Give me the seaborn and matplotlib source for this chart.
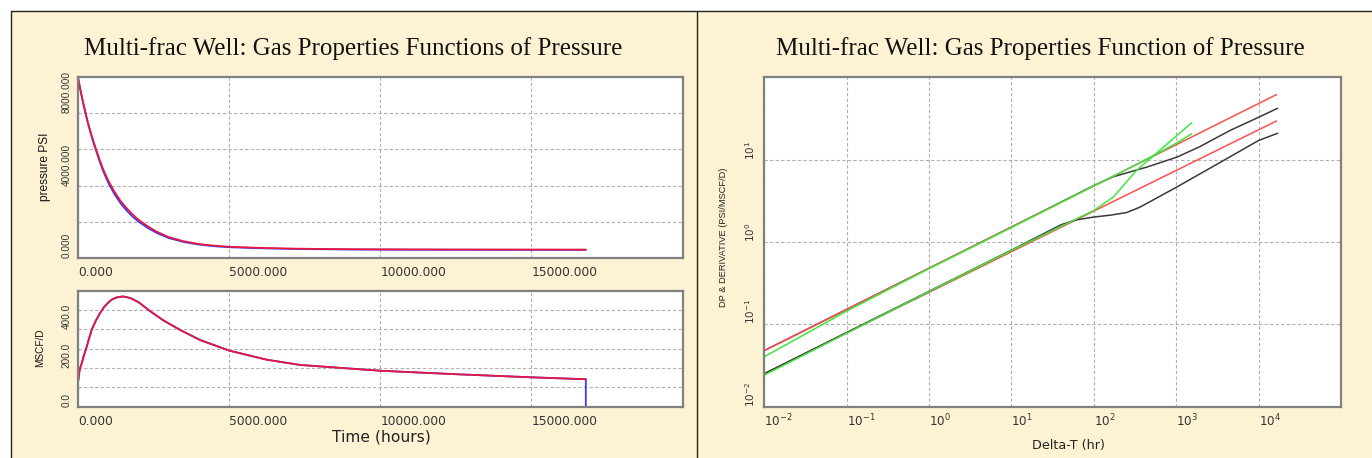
import numpy as np
import pandas as pd
import matplotlib
matplotlib.use("Agg")
import matplotlib.pyplot as plt
from matplotlib.patches import Rectangle
from matplotlib.lines import Line2D
import seaborn as sns

# ---------------- data ----------------
# pressure vs time (left top)
p_time = [0, 50, 100, 150, 200, 300, 400, 500, 600, 700, 800, 900, 1000, 1200, 1400, 1600,
          1800, 2000, 2300, 2600, 3000, 3500, 4000, 4500, 5000, 6000, 7000, 8000, 9000,
          10000, 12000, 14000, 16800]
p_red = [9900, 9460, 9050, 8660, 8300, 7600, 7000, 6450, 5950, 5460, 5000, 4610, 4250, 3650,
         3150, 2750, 2400, 2100, 1750, 1450, 1150, 920, 770, 680, 620, 560, 520, 500, 485,
         478, 470, 466, 462]
p_blue = [9900, 9455, 9040, 8645, 8280, 7560, 6950, 6380, 5870, 5370, 4900, 4500, 4130, 3520,
          3020, 2620, 2280, 2000, 1660, 1380, 1100, 880, 740, 650, 595, 540, 505, 485, 470,
          462, 455, 452, 450]

# rate vs time (left bottom)
q_time = [0, 20, 40, 70, 112, 180, 278, 360, 450, 580, 719, 850, 1000, 1120, 1250, 1360,
          1480, 1600, 1750, 2000, 2370, 2800, 3370, 4030, 5000, 6240, 7340, 8660, 10000,
          12500, 15000, 16800]
q_red = [135, 163, 185, 205, 224, 262, 310, 355, 400, 445, 484, 515, 540, 555, 564, 568,
         570, 567, 560, 540, 495, 448, 397, 345, 290, 243, 216, 201, 186, 168, 152, 142]
q_blue_time = q_time + [16800]
q_blue = q_red + [0]

# log-log diagnostic (right)
red_up_t = [0.01, 16500]
red_up_y = [0.048, 61.7]
red_lo_t = [0.01, 16500]
red_lo_y = [0.0252, 29.5]
blk_up_t = [0.01, 0.1, 1, 10, 100, 172, 437, 1011, 1940, 4490, 10000, 17000]
blk_up_y = [0.048, 0.152, 0.48, 1.52, 4.85, 6.2, 8.11, 10.7, 14.4, 22.6, 32.7, 42.1]
blk_lo_t = [0.01, 0.1, 1, 10, 40, 60, 100, 160, 250, 363, 1011, 2800, 10000, 17000]
blk_lo_y = [0.0252, 0.0797, 0.252, 0.797, 1.62, 1.85, 2.01, 2.12, 2.28, 2.65, 4.64, 8.27, 17.1, 20.9]
grn_up_t = [0.01, 0.1, 1, 10, 100, 250, 600, 1000, 1540]
grn_up_y = [0.0404, 0.145, 0.475, 1.5, 4.8, 7.6, 12.0, 15.8, 20.6]
grn_lo_t = [0.01, 0.1, 1, 10, 100, 172, 330, 700, 1540]
grn_lo_y = [0.0242, 0.078, 0.25, 0.79, 2.42, 3.5, 7.4, 14.2, 28.0]

time_ticks = [0, 5000, 10000, 15000]
p_ticks = [0, 2000, 4000, 6000, 8000]
p_labels = ["0.000", "", "4000.000", "", "8000.000"]
q_ticks = [0, 100, 200, 300, 400, 500]
q_labels = ["0.0", "", "200.0", "", "400.0", ""]
logx_ticks = [1e-2, 1e-1, 1e0, 1e1, 1e2, 1e3, 1e4]
logx_labels = ["$10^{-2}$", "$10^{-1}$", "$10^{0}$", "$10^{1}$", "$10^{2}$", "$10^{3}$", "$10^{4}$"]
logy_ticks = [1e-2, 1e-1, 1e0, 1e1]
logy_labels = ["$10^{-2}$", "$10^{-1}$", "$10^{0}$", "$10^{1}$"]

title_left = "Multi-frac Well: Gas Properties Functions of Pressure"
title_right = "Multi-frac Well: Gas Properties Function of Pressure"

# ---------------- style ----------------
sns.set_style("white")
plt.rcParams["font.family"] = ["DejaVu Sans"]
plt.rcParams["mathtext.fontset"] = "dejavusans"

W, H = 1372, 458
fig = plt.figure(figsize=(W / 100, H / 100), dpi=100)
fig.patch.set_facecolor("white")

CREAM = "#fdf3d4"
RED = "#e8173f"
BLUE = "#3a3aff"
LRED = "#ff4f4f"
GREEN = "#3ee63e"
BLACK = "#3a3a3a"
SPINE = "#808080"
GRID = "#b0b0b0"
NARROW = "Liberation Sans"


def fx(x):
    return x / W


def fy(y):
    return 1 - y / H


def add_axes_px(x0, y0, x1, y1):
    ax = fig.add_axes([fx(x0), fy(y1), fx(x1) - fx(x0), fy(y0) - fy(y1)])
    ax.set_zorder(2)
    return ax


# panels
fig.patches.append(Rectangle((fx(10.5), 0), fx(697) - fx(10.5), fy(10.5),
                             transform=fig.transFigure, facecolor=CREAM,
                             edgecolor="none", zorder=-10))
fig.patches.append(Rectangle((fx(697), 0), 1 - fx(697), fy(10.5),
                             transform=fig.transFigure, facecolor=CREAM,
                             edgecolor="none", zorder=-10))
for (xa, ya, xb, yb) in [(10.5, 10.5, 10.5, 458), (10.5, 10.5, 1372, 10.5), (697, 10.5, 697, 458)]:
    fig.lines.append(Line2D([fx(xa), fx(xb)], [fy(ya), fy(yb)], transform=fig.transFigure,
                            color="#222222", lw=1.0, zorder=-5))


def style_axes(ax):
    ax.set_facecolor("white")
    for s in ax.spines.values():
        s.set_color(SPINE)
        s.set_linewidth(1.6)
    ax.grid(True, which="major", color=GRID, linestyle=(0, (3, 2)), linewidth=0.8)
    ax.tick_params(length=0)
    ax.set_xlabel("")
    ax.set_ylabel("")


def rotate_ylabels(ax, size):
    for lab in ax.get_yticklabels():
        lab.set_rotation(90)
        lab.set_va("bottom")
        lab.set_ha("right")
        lab.set_fontsize(size)


def left_xlabels(ax, size):
    for lab in ax.get_xticklabels():
        lab.set_ha("left")
        lab.set_fontsize(size)


# ---- left top: pressure ----
ax1 = add_axes_px(78.3, 77, 682.5, 258)
df_pb = pd.DataFrame({"t": p_time, "p": p_blue})
df_pr = pd.DataFrame({"t": p_time, "p": p_red})
sns.lineplot(data=df_pb, x="t", y="p", ax=ax1, color=BLUE, lw=1.3, estimator=None, sort=False)
sns.lineplot(data=df_pr, x="t", y="p", ax=ax1, color=RED, lw=1.3, estimator=None, sort=False)
ax1.set_xlim(0, 20000)
ax1.set_ylim(0, 10000)
style_axes(ax1)
ax1.set_xticks(time_ticks)
ax1.set_xticklabels([f"{v:.3f}" for v in time_ticks])
ax1.set_yticks(p_ticks)
ax1.set_yticklabels(p_labels, family=NARROW)
ax1.tick_params(axis="x", pad=6, labelcolor="#333333")
ax1.tick_params(axis="y", pad=5, labelcolor="#333333")
rotate_ylabels(ax1, 7.2)
left_xlabels(ax1, 8.8)

# ---- left bottom: rate ----
ax2 = add_axes_px(78.3, 290.7, 682.5, 406.7)
df_qb = pd.DataFrame({"t": q_blue_time, "q": q_blue})
df_qr = pd.DataFrame({"t": q_time, "q": q_red})
sns.lineplot(data=df_qb, x="t", y="q", ax=ax2, color=BLUE, lw=1.3, estimator=None, sort=False)
sns.lineplot(data=df_qr, x="t", y="q", ax=ax2, color=RED, lw=1.3, estimator=None, sort=False)
ax2.set_xlim(0, 20000)
ax2.set_ylim(0, 600)
style_axes(ax2)
ax2.set_xticks(time_ticks)
ax2.set_xticklabels([f"{v:.3f}" for v in time_ticks])
ax2.set_yticks(q_ticks)
ax2.set_yticklabels(q_labels, family=NARROW)
ax2.tick_params(axis="x", pad=6, labelcolor="#333333")
ax2.tick_params(axis="y", pad=5, labelcolor="#333333")
rotate_ylabels(ax2, 7.2)
left_xlabels(ax2, 8.8)

# ---- right: log-log ----
ax3 = add_axes_px(764.3, 77.3, 1341, 406.7)
ax3.set_xscale("log")
ax3.set_yscale("log")
series = [
    (blk_up_t, blk_up_y, BLACK),
    (red_up_t, red_up_y, LRED),
    (red_lo_t, red_lo_y, LRED),
    (blk_lo_t, blk_lo_y, BLACK),
    (grn_up_t, grn_up_y, GREEN),
    (grn_lo_t, grn_lo_y, GREEN),
]
for t, y, c in series:
    d = pd.DataFrame({"t": t, "y": y})
    sns.lineplot(data=d, x="t", y="y", ax=ax3, color=c, lw=1.1, estimator=None, sort=False)
ax3.set_xlim(1e-2, 1e5)
ax3.set_ylim(1e-2, 1e2)
style_axes(ax3)
ax3.minorticks_off()
ax3.set_xticks(logx_ticks)
ax3.set_xticklabels(logx_labels)
ax3.set_yticks(logy_ticks)
ax3.set_yticklabels(logy_labels)
ax3.minorticks_off()
ax3.tick_params(axis="x", pad=4, labelcolor="#333333")
ax3.tick_params(axis="y", pad=5, labelcolor="#333333")
rotate_ylabels(ax3, 7.5)
left_xlabels(ax3, 8.6)

# ---- texts ----
fig.text(fx(353.5), fy(49), title_left, family="Liberation Serif", fontsize=18,
         ha="center", va="center", color="#111111")
fig.text(fx(1040), fy(49), title_right, family="Liberation Serif", fontsize=18,
         ha="center", va="center", color="#111111")
fig.text(fx(45), fy(167), "pressure PSI", family=NARROW, fontsize=8.6, rotation=90,
         ha="center", va="center", color="#111111")
fig.text(fx(40), fy(348), "MSCF/D", family=NARROW, fontsize=7.2, rotation=90,
         ha="center", va="center", color="#111111")
fig.text(fx(381), fy(437), "Time (hours)", fontsize=11.2, ha="center", va="center",
         color="#222222")
fig.text(fx(723), fy(237), "DP & DERIVATIVE (PSI/MSCF/D)", family=NARROW, fontsize=6.7,
         rotation=90, ha="center", va="center", color="#222222")
fig.text(fx(1068), fy(445), "Delta-T (hr)", fontsize=9.2, ha="center", va="center",
         color="#222222")

fig.savefig("out.png", dpi=100, facecolor=fig.get_facecolor())
